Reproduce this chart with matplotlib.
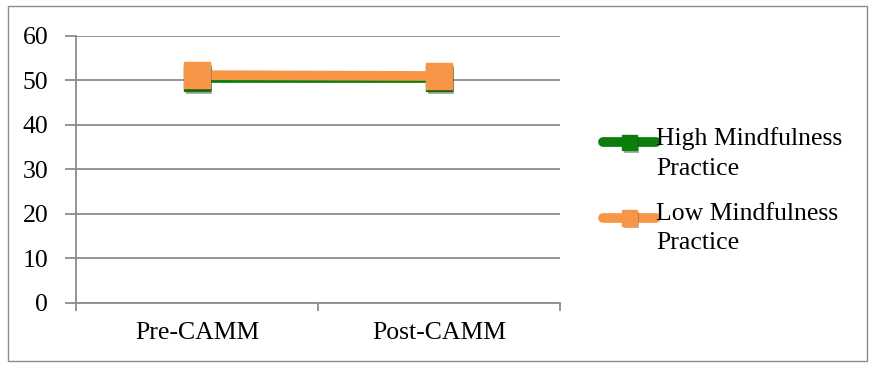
import matplotlib.pyplot as plt
import matplotlib.patheffects as pe
from matplotlib.patches import Rectangle

categories = ["Pre-CAMM", "Post-CAMM"]
high_practice = [50.5, 50.5]
low_practice = [51.2, 51.0]
series_names = ["High Mindfulness\nPractice", "Low Mindfulness\nPractice"]

plt.rcParams['font.family'] = ['Liberation Serif', 'DejaVu Serif']

fig = plt.figure(figsize=(8.7, 3.67), dpi=100)
ax = fig.add_axes([0.0874, 0.1744, 0.5563, 0.7276])

# outer frame of the chart
fig.patches.append(Rectangle((0.009, 0.016), 0.988, 0.968, transform=fig.transFigure,
                             fill=False, edgecolor='#8c8c8c', linewidth=1.0))

x = list(range(len(categories)))
shadow = [pe.SimplePatchShadow(offset=(1.5, -2), alpha=0.35), pe.Normal()]
ax.plot(x, high_practice, color='#0a7d0a', linewidth=7, marker='s', markersize=19,
        solid_capstyle='round', label=series_names[0], zorder=3, path_effects=shadow)
ax.plot(x, low_practice, color='#f79646', linewidth=7, marker='s', markersize=19,
        solid_capstyle='round', label=series_names[1], zorder=4, path_effects=shadow)

ax.set_xlim(-0.5, 1.5)
ax.set_ylim(0, 60)
ax.set_yticks(range(0, 61, 10))
ax.set_xticks(x)
ax.set_xticklabels(categories)
ax.set_xticks([-0.5, 0.5, 1.5], minor=True)
ax.tick_params(axis='x', which='major', length=0, labelsize=18.5, pad=14)
ax.tick_params(axis='x', which='minor', length=6, width=1.3, color='#8c8c8c', direction='out')
ax.tick_params(axis='y', length=8, width=1.3, color='#8c8c8c', labelsize=18.5, pad=12)

ax.grid(axis='y', color='#8c8c8c', linewidth=1.3)
ax.set_axisbelow(True)
for side in ['top', 'right']:
    ax.spines[side].set_visible(False)
for side in ['left', 'bottom']:
    ax.spines[side].set_color('#8c8c8c')
    ax.spines[side].set_linewidth(1.3)

leg = ax.legend(loc='center left', bbox_to_anchor=(1.04, 0.415), frameon=False,
                fontsize=18.5, handlelength=2.1, handleheight=3.4, handletextpad=0.0,
                labelspacing=0.47, markerscale=0.6)
for t in leg.get_texts():
    t.set_linespacing(1.45)

fig.savefig('out.png', dpi=100)
